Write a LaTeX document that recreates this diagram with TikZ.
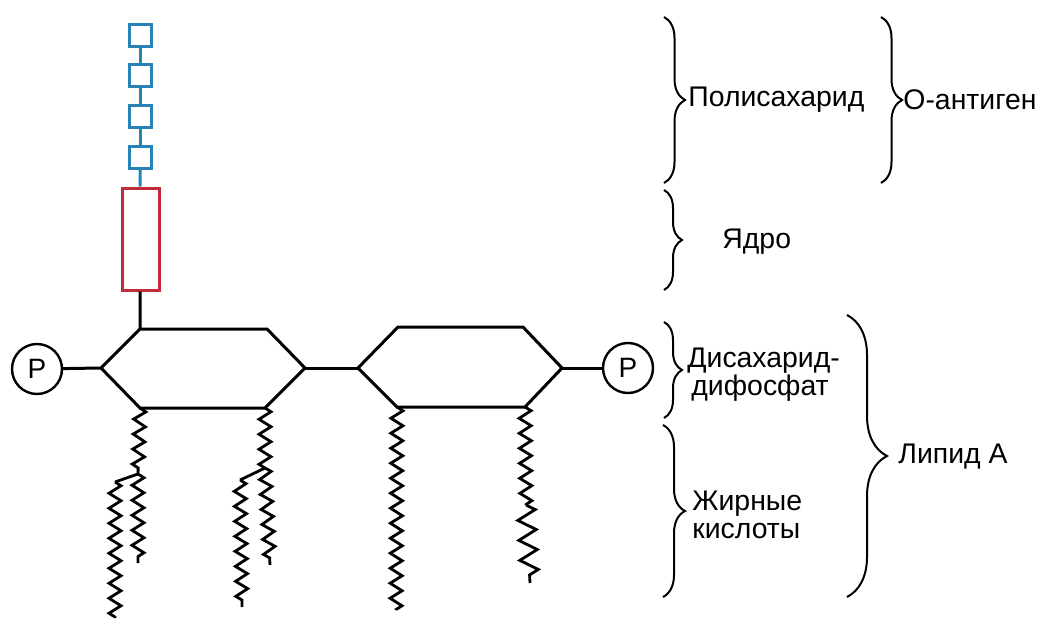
\documentclass[tikz,border=0pt]{standalone}
\usepackage{fontspec}
\setmainfont{Liberation Sans}
\usepackage{tikz}
\usetikzlibrary{positioning,calc}
\usetikzlibrary{decorations.pathmorphing,decorations.pathreplacing}
\definecolor{sugarblue}{RGB}{38,132,182}
\definecolor{corered}{RGB}{192,44,56}
\tikzstyle{chain} = [line width=1.4pt,decorate,decoration={zigzag,segment length=7.5pt,amplitude=3pt}]
\tikzstyle{bond} = [line width=1.5pt]

\begin{document}
\begin{tikzpicture}[x=0.5pt,y=-0.5pt,
	sugar/.style={rectangle, draw=sugarblue, line width=1.5pt, minimum size=11pt, inner sep=0pt},
	core/.style={rectangle, draw=corered, line width=1.5pt, minimum width=18.5pt, minimum height=51pt, inner sep=0pt},
	phos/.style={circle, draw, line width=1.2pt, minimum size=25pt, inner sep=0pt, font=\fontsize{14}{14}\selectfont},
	lbl/.style={anchor=west, inner sep=0pt, align=left, font=\fontsize{14.2}{14}\selectfont},
	curly/.style={line width=1pt, decorate, decoration={brace, amplitude=#1}}]
	\useasboundingbox (0,0) rectangle (1045,621);
	
	% O-ANTIGEN AND CORE
	
	\foreach \i/\y in {1/35,2/75,3/116,4/157}
		\node [sugar] (s\i) at (140,\y) {};
	\node [core] (core) at (140.5,239) {};
	\foreach \a/\b in {s1/s2,s2/s3,s3/s4,s4/core}
		\draw [sugarblue, line width=1.5pt] (\a) -- (\b);
	
	% LIPID A
	
	\draw [bond] (101,368) coordinate (h1w) -- (140,329) coordinate (h1nw) -- (267,329) -- (305,368) coordinate (h1e)
		-- (265,408) coordinate (h1se) -- (140,408) coordinate (h1sw) -- cycle;
	\draw [bond] (358,368) coordinate (h2w) -- (398,327) -- (523,327) -- (562,368) coordinate (h2e)
		-- (525,407) coordinate (h2se) -- (397,407) coordinate (h2sw) -- cycle;
	\node [phos] (pl) at (37,369) {P};
	\node [phos] (pr) at (628,368) {P};
	\draw [bond] (core) -- (h1nw);
	\draw [bond] (pl) -- (h1w);
	\draw [bond] (h1e) -- (h2w);
	\draw [bond] (h2e) -- (pr);
	
	% FATTY ACIDS
	
	\coordinate (a1) at (138,474);
	\coordinate (a2) at (115,482);
	\coordinate (a3) at (115,618);
	\coordinate (a4) at (138,563);
	\coordinate (b1) at (265,468);
	\coordinate (b2) at (240,480);
	\coordinate (b3) at (242,607);
	\coordinate (b4) at (270,565);
	\coordinate (c1) at (396,610);
	\coordinate (d1) at (526,505);
	\coordinate (d2) at (530,583);
	\draw [chain] (h1sw) -- (a1);
	\draw [line width=1.4pt] (a1) -- (a2);
	\draw [chain] (a2) -- (a3);
	\draw [chain] (a1) -- (a4);
	\draw [chain] (h1se) -- (b1);
	\draw [line width=1.4pt] (b1) -- (b2);
	\draw [chain] (b2) -- (b3);
	\draw [chain] (b1) -- (b4);
	\draw [chain] (h2sw) -- (c1);
	\draw [chain] (h2se) -- (d1);
	\draw [chain, decoration={amplitude=4.5pt, segment length=10pt}] (d1) -- (d2);
	
	% LABELS
	
	\draw [curly=10.5pt] (664,17) -- (664,183);
	\draw [curly=10.5pt] (881,17) -- (881,183);
	\draw [curly=9pt] (664,190) -- (664,290);
	\draw [curly=9pt] (664,322) -- (664,418);
	\draw [curly=11pt] (663,425) -- (663,597);
	\draw [curly=20pt] (847,315) -- (847,597);
	\node [lbl] (poly) at (688,100) {Полисахарид};
	\node [lbl] (oant) at (903,100) {О-антиген};
	\node [lbl] (yadro) at (722,242) {Ядро};
	\node [lbl] (disach) at (687,375) {Дисахарид-\\\hspace*{2pt}дифосфат};
	\node [lbl] (fatty) at (692,515) {Жирные\\кислоты};
	\node [lbl] (lipid) at (898,457) {Липид А};

\end{tikzpicture}
\end{document}
